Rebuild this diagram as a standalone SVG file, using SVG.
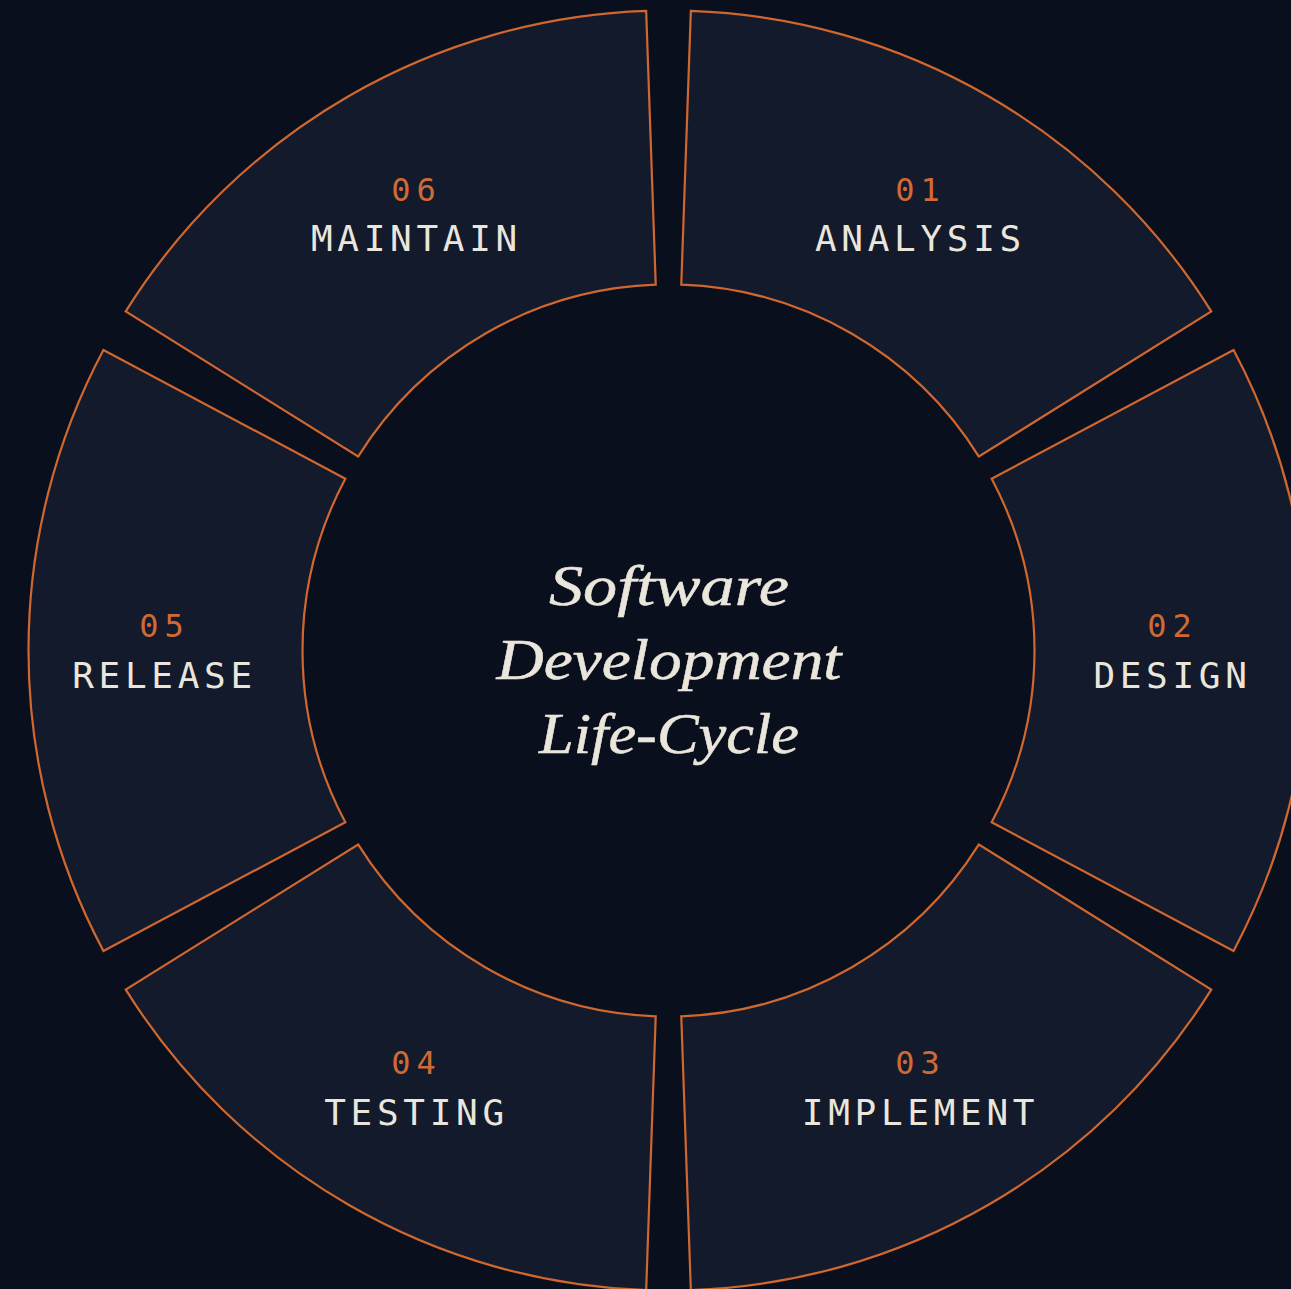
<svg xmlns="http://www.w3.org/2000/svg" width="1291" height="1289" viewBox="0 0 1291 1289">
  <style>
    .seg { fill: #121a2c; stroke: #d0672e; stroke-width: 2.2; stroke-linejoin: miter; }
    .num { font-family: "DejaVu Sans Mono", "Liberation Mono", monospace; font-size: 32px; fill: #d06a34; letter-spacing: 6px; text-anchor: middle; }
    .name { font-family: "DejaVu Sans Mono", "Liberation Mono", monospace; font-size: 36px; fill: #ebe6dc; letter-spacing: 4.7px; text-anchor: middle; }
    .title { font-family: "Liberation Serif", "DejaVu Serif", serif; font-style: italic; font-size: 56px; fill: #ebe6dc; stroke: #ebe6dc; stroke-width: 0.5; text-anchor: middle; }
  </style>
  <rect x="0" y="0" width="1291" height="1289" fill="#0a0f1d"/>

  <g id="seg-analysis">
    <path class="seg" d="M690.835 10.890 A640 640 0 0 1 1211.251 311.352 L978.886 456.550 A366 366 0 0 0 681.273 284.723 Z"/>
    <text class="num" x="920.5" y="200.5">01</text>
    <text class="name" x="920.5" y="251">ANALYSIS</text>
  </g>
  <g id="seg-design">
    <path class="seg" d="M1233.587 350.038 A640 640 0 0 1 1233.587 950.962 L991.659 822.327 A366 366 0 0 0 991.659 478.673 Z"/>
    <text class="num" x="1172.5" y="637">02</text>
    <text class="name" x="1172.5" y="687.5">DESIGN</text>
  </g>
  <g id="seg-implement">
    <path class="seg" d="M1211.251 989.648 A640 640 0 0 1 690.835 1290.110 L681.273 1016.277 A366 366 0 0 0 978.886 844.450 Z"/>
    <text class="num" x="920.5" y="1074">03</text>
    <text class="name" x="920.5" y="1124.5">IMPLEMENT</text>
  </g>
  <g id="seg-testing">
    <path class="seg" d="M646.165 1290.110 A640 640 0 0 1 125.749 989.648 L358.114 844.450 A366 366 0 0 0 655.727 1016.277 Z"/>
    <text class="num" x="416.5" y="1074">04</text>
    <text class="name" x="416.5" y="1124.5">TESTING</text>
  </g>
  <g id="seg-release">
    <path class="seg" d="M103.413 950.962 A640 640 0 0 1 103.413 350.038 L345.341 478.673 A366 366 0 0 0 345.341 822.327 Z"/>
    <text class="num" x="164.5" y="637">05</text>
    <text class="name" x="164.5" y="687.5">RELEASE</text>
  </g>
  <g id="seg-maintain">
    <path class="seg" d="M125.749 311.352 A640 640 0 0 1 646.165 10.890 L655.727 284.723 A366 366 0 0 0 358.114 456.550 Z"/>
    <text class="num" x="416.5" y="200.5">06</text>
    <text class="name" x="416.5" y="251">MAINTAIN</text>
  </g>

  <g id="connectors"></g>

  <g id="center-title">
    <text class="title" x="669" y="605" textLength="240" lengthAdjust="spacingAndGlyphs">Software</text>
    <text class="title" x="669" y="679" textLength="345" lengthAdjust="spacingAndGlyphs">Development</text>
    <text class="title" x="669" y="753" textLength="260" lengthAdjust="spacingAndGlyphs">Life-Cycle</text>
  </g>
</svg>
